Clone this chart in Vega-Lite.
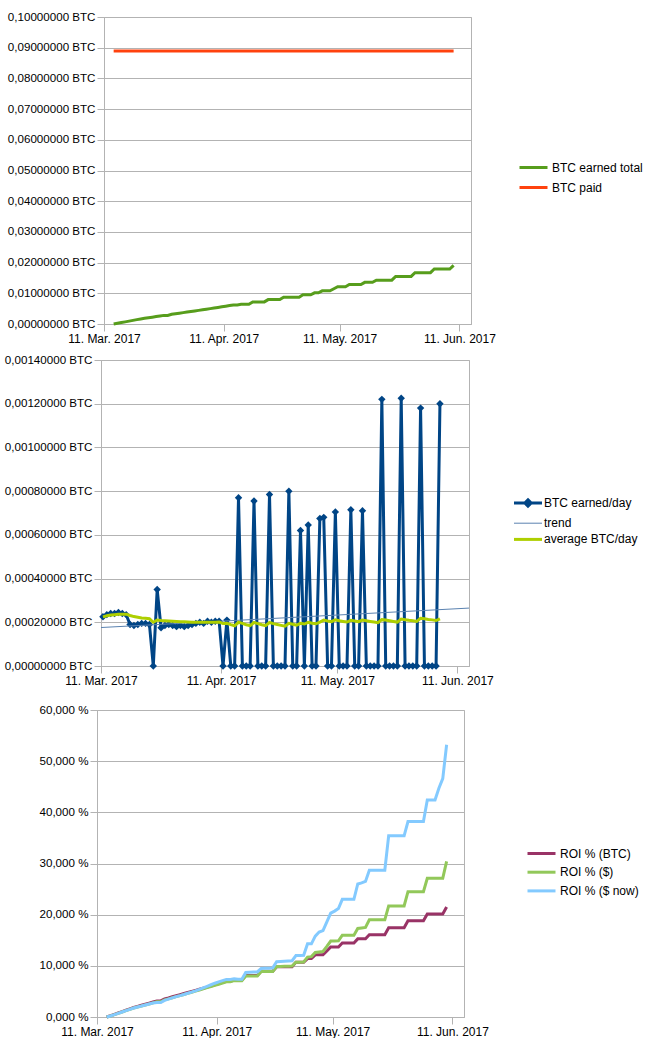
{
  "$schema": "https://vega.github.io/schema/vega-lite/v6.json",
  "padding": {"left": 0, "top": 10, "right": 0, "bottom": 0},
  "background": "white",
  "spacing": 8,
  "config": {
    "font": "Liberation Sans",
    "view": {"stroke": "#b3b3b3", "strokeWidth": 1},
    "axis": {"labelFont": "Liberation Sans", "labelFontSize": 12, "labelColor": "#000000", "domainColor": "#b3b3b3", "tickColor": "#b3b3b3", "gridColor": "#b3b3b3", "tickSize": 7, "labelPadding": 2, "labelFlush": false, "labelOverlap": false, "labelBound": false},
    "axisY": {"labelFontSize": 11.6},
    "legend": {"labelFont": "Liberation Sans", "labelFontSize": 12, "labelColor": "#000000", "labelLimit": 300}
  },
  "resolve": {"scale": {"x": "independent", "y": "independent", "color": "independent"}, "legend": {"color": "independent"}},
  "datasets": {
    "daily": [
      {"date": "2017-03-11T12:00:00Z", "btc": 0.000225, "avg": 0.000225},
      {"date": "2017-03-12T12:00:00Z", "btc": 0.000235, "avg": 0.00023},
      {"date": "2017-03-13T12:00:00Z", "btc": 0.00024, "avg": 0.000233},
      {"date": "2017-03-14T12:00:00Z", "btc": 0.00024, "avg": 0.000235},
      {"date": "2017-03-15T12:00:00Z", "btc": 0.000245, "avg": 0.000237},
      {"date": "2017-03-16T12:00:00Z", "btc": 0.00024, "avg": 0.000237},
      {"date": "2017-03-17T12:00:00Z", "btc": 0.000235, "avg": 0.000237},
      {"date": "2017-03-18T12:00:00Z", "btc": 0.00019, "avg": 0.000231},
      {"date": "2017-03-19T12:00:00Z", "btc": 0.000185, "avg": 0.000226},
      {"date": "2017-03-20T12:00:00Z", "btc": 0.00019, "avg": 0.000223},
      {"date": "2017-03-21T12:00:00Z", "btc": 0.000195, "avg": 0.00022},
      {"date": "2017-03-22T12:00:00Z", "btc": 0.000195, "avg": 0.000218},
      {"date": "2017-03-23T12:00:00Z", "btc": 0.00019, "avg": 0.000216},
      {"date": "2017-03-24T12:00:00Z", "btc": 0, "avg": 0.0002},
      {"date": "2017-03-25T12:00:00Z", "btc": 0.00035, "avg": 0.00021},
      {"date": "2017-03-26T12:00:00Z", "btc": 0.000175, "avg": 0.000208},
      {"date": "2017-03-27T12:00:00Z", "btc": 0.000185, "avg": 0.000207},
      {"date": "2017-03-28T12:00:00Z", "btc": 0.00019, "avg": 0.000206},
      {"date": "2017-03-29T12:00:00Z", "btc": 0.000185, "avg": 0.000205},
      {"date": "2017-03-30T12:00:00Z", "btc": 0.00018, "avg": 0.000204},
      {"date": "2017-03-31T12:00:00Z", "btc": 0.000185, "avg": 0.000203},
      {"date": "2017-04-01T12:00:00Z", "btc": 0.00018, "avg": 0.000202},
      {"date": "2017-04-02T12:00:00Z", "btc": 0.000185, "avg": 0.000201},
      {"date": "2017-04-03T12:00:00Z", "btc": 0.00019, "avg": 0.0002},
      {"date": "2017-04-04T12:00:00Z", "btc": 0.000195, "avg": 0.0002},
      {"date": "2017-04-05T12:00:00Z", "btc": 0.0002, "avg": 0.0002},
      {"date": "2017-04-06T12:00:00Z", "btc": 0.000195, "avg": 0.0002},
      {"date": "2017-04-07T12:00:00Z", "btc": 0.000205, "avg": 0.0002},
      {"date": "2017-04-08T12:00:00Z", "btc": 0.0002, "avg": 0.0002},
      {"date": "2017-04-09T12:00:00Z", "btc": 0.000205, "avg": 0.0002},
      {"date": "2017-04-10T12:00:00Z", "btc": 0.000205, "avg": 0.000201},
      {"date": "2017-04-11T12:00:00Z", "btc": 0, "avg": 0.000194},
      {"date": "2017-04-12T12:00:00Z", "btc": 0.00021, "avg": 0.000195},
      {"date": "2017-04-13T12:00:00Z", "btc": 0, "avg": 0.000189},
      {"date": "2017-04-14T12:00:00Z", "btc": 0, "avg": 0.000184},
      {"date": "2017-04-15T12:00:00Z", "btc": 0.00077, "avg": 0.0002},
      {"date": "2017-04-16T12:00:00Z", "btc": 0, "avg": 0.000195},
      {"date": "2017-04-17T12:00:00Z", "btc": 0, "avg": 0.000189},
      {"date": "2017-04-18T12:00:00Z", "btc": 0, "avg": 0.000185},
      {"date": "2017-04-19T12:00:00Z", "btc": 0.000755, "avg": 0.000199},
      {"date": "2017-04-20T12:00:00Z", "btc": 0, "avg": 0.000194},
      {"date": "2017-04-21T12:00:00Z", "btc": 0, "avg": 0.000189},
      {"date": "2017-04-22T12:00:00Z", "btc": 0, "avg": 0.000185},
      {"date": "2017-04-23T12:00:00Z", "btc": 0.000785, "avg": 0.000199},
      {"date": "2017-04-24T12:00:00Z", "btc": 0, "avg": 0.000194},
      {"date": "2017-04-25T12:00:00Z", "btc": 0, "avg": 0.00019},
      {"date": "2017-04-26T12:00:00Z", "btc": 0, "avg": 0.000186},
      {"date": "2017-04-27T12:00:00Z", "btc": 0, "avg": 0.000182},
      {"date": "2017-04-28T12:00:00Z", "btc": 0.0008, "avg": 0.000195},
      {"date": "2017-04-29T12:00:00Z", "btc": 0, "avg": 0.000191},
      {"date": "2017-04-30T12:00:00Z", "btc": 0, "avg": 0.000187},
      {"date": "2017-05-01T12:00:00Z", "btc": 0.00062, "avg": 0.000195},
      {"date": "2017-05-02T12:00:00Z", "btc": 0, "avg": 0.000192},
      {"date": "2017-05-03T12:00:00Z", "btc": 0.000645, "avg": 0.0002},
      {"date": "2017-05-04T12:00:00Z", "btc": 0, "avg": 0.000196},
      {"date": "2017-05-05T12:00:00Z", "btc": 0, "avg": 0.000193},
      {"date": "2017-05-06T12:00:00Z", "btc": 0.000675, "avg": 0.000201},
      {"date": "2017-05-07T12:00:00Z", "btc": 0.00068, "avg": 0.00021},
      {"date": "2017-05-08T12:00:00Z", "btc": 0, "avg": 0.000206},
      {"date": "2017-05-09T12:00:00Z", "btc": 0, "avg": 0.000203},
      {"date": "2017-05-10T12:00:00Z", "btc": 0.000705, "avg": 0.000211},
      {"date": "2017-05-11T12:00:00Z", "btc": 0, "avg": 0.000207},
      {"date": "2017-05-12T12:00:00Z", "btc": 0, "avg": 0.000204},
      {"date": "2017-05-13T12:00:00Z", "btc": 0, "avg": 0.000201},
      {"date": "2017-05-14T12:00:00Z", "btc": 0.000715, "avg": 0.000209},
      {"date": "2017-05-15T12:00:00Z", "btc": 0, "avg": 0.000206},
      {"date": "2017-05-16T12:00:00Z", "btc": 0, "avg": 0.000203},
      {"date": "2017-05-17T12:00:00Z", "btc": 0.00071, "avg": 0.00021},
      {"date": "2017-05-18T12:00:00Z", "btc": 0, "avg": 0.000207},
      {"date": "2017-05-19T12:00:00Z", "btc": 0, "avg": 0.000204},
      {"date": "2017-05-20T12:00:00Z", "btc": 0, "avg": 0.000201},
      {"date": "2017-05-21T12:00:00Z", "btc": 0, "avg": 0.000198},
      {"date": "2017-05-22T12:00:00Z", "btc": 0.00122, "avg": 0.000212},
      {"date": "2017-05-23T12:00:00Z", "btc": 0, "avg": 0.00021},
      {"date": "2017-05-24T12:00:00Z", "btc": 0, "avg": 0.000207},
      {"date": "2017-05-25T12:00:00Z", "btc": 0, "avg": 0.000204},
      {"date": "2017-05-26T12:00:00Z", "btc": 0, "avg": 0.000201},
      {"date": "2017-05-27T12:00:00Z", "btc": 0.001225, "avg": 0.000215},
      {"date": "2017-05-28T12:00:00Z", "btc": 0, "avg": 0.000212},
      {"date": "2017-05-29T12:00:00Z", "btc": 0, "avg": 0.000209},
      {"date": "2017-05-30T12:00:00Z", "btc": 0, "avg": 0.000207},
      {"date": "2017-05-31T12:00:00Z", "btc": 0, "avg": 0.000204},
      {"date": "2017-06-01T12:00:00Z", "btc": 0.00118, "avg": 0.000218},
      {"date": "2017-06-02T12:00:00Z", "btc": 0, "avg": 0.000216},
      {"date": "2017-06-03T12:00:00Z", "btc": 0, "avg": 0.000213},
      {"date": "2017-06-04T12:00:00Z", "btc": 0, "avg": 0.000211},
      {"date": "2017-06-05T12:00:00Z", "btc": 0, "avg": 0.000208},
      {"date": "2017-06-06T12:00:00Z", "btc": 0.0012, "avg": 0.000216}
    ],
    "trend": [
      {"date": "2017-03-11T00:00:00Z", "value": 0.000176},
      {"date": "2017-06-14T00:00:00Z", "value": 0.000265}
    ],
    "totals": [
      {"date": "2017-03-13T12:00:00Z", "total": 0, "paid": 0.0889, "roi_btc": 0, "roi_usd": 0, "roi_now": 0},
      {"date": "2017-03-14T12:00:00Z", "total": 0.000225, "paid": 0.0889, "roi_btc": 0.25, "roi_usd": 0.2, "roi_now": 0.2},
      {"date": "2017-03-15T12:00:00Z", "total": 0.00046, "paid": 0.0889, "roi_btc": 0.52, "roi_usd": 0.45, "roi_now": 0.45},
      {"date": "2017-03-16T12:00:00Z", "total": 0.0007, "paid": 0.0889, "roi_btc": 0.79, "roi_usd": 0.72, "roi_now": 0.72},
      {"date": "2017-03-17T12:00:00Z", "total": 0.00094, "paid": 0.0889, "roi_btc": 1.06, "roi_usd": 0.98, "roi_now": 0.98},
      {"date": "2017-03-18T12:00:00Z", "total": 0.001185, "paid": 0.0889, "roi_btc": 1.33, "roi_usd": 1.24, "roi_now": 1.24},
      {"date": "2017-03-19T12:00:00Z", "total": 0.001425, "paid": 0.0889, "roi_btc": 1.6, "roi_usd": 1.5, "roi_now": 1.5},
      {"date": "2017-03-20T12:00:00Z", "total": 0.00166, "paid": 0.0889, "roi_btc": 1.87, "roi_usd": 1.76, "roi_now": 1.76},
      {"date": "2017-03-21T12:00:00Z", "total": 0.00185, "paid": 0.0889, "roi_btc": 2.08, "roi_usd": 1.96, "roi_now": 1.96},
      {"date": "2017-03-22T12:00:00Z", "total": 0.002035, "paid": 0.0889, "roi_btc": 2.29, "roi_usd": 2.14, "roi_now": 2.14},
      {"date": "2017-03-23T12:00:00Z", "total": 0.002225, "paid": 0.0889, "roi_btc": 2.5, "roi_usd": 2.34, "roi_now": 2.34},
      {"date": "2017-03-24T12:00:00Z", "total": 0.00242, "paid": 0.0889, "roi_btc": 2.72, "roi_usd": 2.55, "roi_now": 2.55},
      {"date": "2017-03-25T12:00:00Z", "total": 0.002615, "paid": 0.0889, "roi_btc": 2.94, "roi_usd": 2.76, "roi_now": 2.72},
      {"date": "2017-03-26T12:00:00Z", "total": 0.002805, "paid": 0.0889, "roi_btc": 3.15, "roi_usd": 2.97, "roi_now": 2.85},
      {"date": "2017-03-27T12:00:00Z", "total": 0.002805, "paid": 0.0889, "roi_btc": 3.15, "roi_usd": 2.97, "roi_now": 2.82},
      {"date": "2017-03-28T12:00:00Z", "total": 0.003155, "paid": 0.0889, "roi_btc": 3.55, "roi_usd": 3.36, "roi_now": 3.25},
      {"date": "2017-03-29T12:00:00Z", "total": 0.00333, "paid": 0.0889, "roi_btc": 3.74, "roi_usd": 3.55, "roi_now": 3.5},
      {"date": "2017-03-30T12:00:00Z", "total": 0.003515, "paid": 0.0889, "roi_btc": 3.95, "roi_usd": 3.76, "roi_now": 3.74},
      {"date": "2017-03-31T12:00:00Z", "total": 0.003705, "paid": 0.0889, "roi_btc": 4.17, "roi_usd": 3.98, "roi_now": 3.98},
      {"date": "2017-04-01T12:00:00Z", "total": 0.00389, "paid": 0.0889, "roi_btc": 4.37, "roi_usd": 4.18, "roi_now": 4.18},
      {"date": "2017-04-02T12:00:00Z", "total": 0.00407, "paid": 0.0889, "roi_btc": 4.58, "roi_usd": 4.4, "roi_now": 4.4},
      {"date": "2017-04-03T12:00:00Z", "total": 0.004255, "paid": 0.0889, "roi_btc": 4.79, "roi_usd": 4.62, "roi_now": 4.64},
      {"date": "2017-04-04T12:00:00Z", "total": 0.004435, "paid": 0.0889, "roi_btc": 4.99, "roi_usd": 4.83, "roi_now": 4.87},
      {"date": "2017-04-05T12:00:00Z", "total": 0.00462, "paid": 0.0889, "roi_btc": 5.2, "roi_usd": 5.05, "roi_now": 5.12},
      {"date": "2017-04-06T12:00:00Z", "total": 0.00481, "paid": 0.0889, "roi_btc": 5.41, "roi_usd": 5.28, "roi_now": 5.4},
      {"date": "2017-04-07T12:00:00Z", "total": 0.005005, "paid": 0.0889, "roi_btc": 5.63, "roi_usd": 5.5, "roi_now": 5.7},
      {"date": "2017-04-08T12:00:00Z", "total": 0.005205, "paid": 0.0889, "roi_btc": 5.85, "roi_usd": 5.73, "roi_now": 6.0},
      {"date": "2017-04-09T12:00:00Z", "total": 0.0054, "paid": 0.0889, "roi_btc": 6.07, "roi_usd": 5.95, "roi_now": 6.3},
      {"date": "2017-04-10T12:00:00Z", "total": 0.005605, "paid": 0.0889, "roi_btc": 6.3, "roi_usd": 6.18, "roi_now": 6.6},
      {"date": "2017-04-11T12:00:00Z", "total": 0.005805, "paid": 0.0889, "roi_btc": 6.53, "roi_usd": 6.4, "roi_now": 6.85},
      {"date": "2017-04-12T12:00:00Z", "total": 0.00601, "paid": 0.0889, "roi_btc": 6.76, "roi_usd": 6.63, "roi_now": 7.1},
      {"date": "2017-04-13T12:00:00Z", "total": 0.006215, "paid": 0.0889, "roi_btc": 6.99, "roi_usd": 6.87, "roi_now": 7.35},
      {"date": "2017-04-14T12:00:00Z", "total": 0.006215, "paid": 0.0889, "roi_btc": 6.99, "roi_usd": 6.87, "roi_now": 7.35},
      {"date": "2017-04-15T12:00:00Z", "total": 0.006425, "paid": 0.0889, "roi_btc": 7.23, "roi_usd": 7.1, "roi_now": 7.45},
      {"date": "2017-04-16T12:00:00Z", "total": 0.006425, "paid": 0.0889, "roi_btc": 7.23, "roi_usd": 7.1, "roi_now": 7.4},
      {"date": "2017-04-17T12:00:00Z", "total": 0.006425, "paid": 0.0889, "roi_btc": 7.23, "roi_usd": 7.1, "roi_now": 7.4},
      {"date": "2017-04-18T12:00:00Z", "total": 0.007195, "paid": 0.0889, "roi_btc": 8.09, "roi_usd": 8.0, "roi_now": 8.7},
      {"date": "2017-04-19T12:00:00Z", "total": 0.007195, "paid": 0.0889, "roi_btc": 8.09, "roi_usd": 8.0, "roi_now": 8.75},
      {"date": "2017-04-20T12:00:00Z", "total": 0.007195, "paid": 0.0889, "roi_btc": 8.09, "roi_usd": 8.0, "roi_now": 8.8},
      {"date": "2017-04-21T12:00:00Z", "total": 0.007195, "paid": 0.0889, "roi_btc": 8.09, "roi_usd": 8.0, "roi_now": 8.8},
      {"date": "2017-04-22T12:00:00Z", "total": 0.00795, "paid": 0.0889, "roi_btc": 8.94, "roi_usd": 8.9, "roi_now": 9.5},
      {"date": "2017-04-23T12:00:00Z", "total": 0.00795, "paid": 0.0889, "roi_btc": 8.94, "roi_usd": 8.9, "roi_now": 9.55},
      {"date": "2017-04-24T12:00:00Z", "total": 0.00795, "paid": 0.0889, "roi_btc": 8.94, "roi_usd": 8.9, "roi_now": 9.55},
      {"date": "2017-04-25T12:00:00Z", "total": 0.00795, "paid": 0.0889, "roi_btc": 8.94, "roi_usd": 8.9, "roi_now": 9.6},
      {"date": "2017-04-26T12:00:00Z", "total": 0.008735, "paid": 0.0889, "roi_btc": 9.82, "roi_usd": 9.85, "roi_now": 10.8},
      {"date": "2017-04-27T12:00:00Z", "total": 0.008735, "paid": 0.0889, "roi_btc": 9.82, "roi_usd": 9.85, "roi_now": 10.85},
      {"date": "2017-04-28T12:00:00Z", "total": 0.008735, "paid": 0.0889, "roi_btc": 9.82, "roi_usd": 9.9, "roi_now": 10.9},
      {"date": "2017-04-29T12:00:00Z", "total": 0.008735, "paid": 0.0889, "roi_btc": 9.82, "roi_usd": 9.9, "roi_now": 10.95},
      {"date": "2017-04-30T12:00:00Z", "total": 0.008735, "paid": 0.0889, "roi_btc": 9.82, "roi_usd": 9.95, "roi_now": 11.0},
      {"date": "2017-05-01T12:00:00Z", "total": 0.009535, "paid": 0.0889, "roi_btc": 10.72, "roi_usd": 10.7, "roi_now": 12.0},
      {"date": "2017-05-02T12:00:00Z", "total": 0.009535, "paid": 0.0889, "roi_btc": 10.72, "roi_usd": 10.7, "roi_now": 12.0},
      {"date": "2017-05-03T12:00:00Z", "total": 0.009535, "paid": 0.0889, "roi_btc": 10.72, "roi_usd": 10.75, "roi_now": 12.05},
      {"date": "2017-05-04T12:00:00Z", "total": 0.010155, "paid": 0.0889, "roi_btc": 11.42, "roi_usd": 11.7, "roi_now": 14.3},
      {"date": "2017-05-05T12:00:00Z", "total": 0.010155, "paid": 0.0889, "roi_btc": 11.42, "roi_usd": 11.8, "roi_now": 14.3},
      {"date": "2017-05-06T12:00:00Z", "total": 0.0108, "paid": 0.0889, "roi_btc": 12.15, "roi_usd": 12.6, "roi_now": 15.8},
      {"date": "2017-05-07T12:00:00Z", "total": 0.0108, "paid": 0.0889, "roi_btc": 12.15, "roi_usd": 12.7, "roi_now": 16.6},
      {"date": "2017-05-08T12:00:00Z", "total": 0.0108, "paid": 0.0889, "roi_btc": 12.15, "roi_usd": 12.8, "roi_now": 16.9},
      {"date": "2017-05-09T12:00:00Z", "total": 0.011475, "paid": 0.0889, "roi_btc": 12.9, "roi_usd": 13.8, "roi_now": 18.6},
      {"date": "2017-05-10T12:00:00Z", "total": 0.012155, "paid": 0.0889, "roi_btc": 13.67, "roi_usd": 14.85, "roi_now": 20.3},
      {"date": "2017-05-11T12:00:00Z", "total": 0.012155, "paid": 0.0889, "roi_btc": 13.67, "roi_usd": 14.85, "roi_now": 20.7},
      {"date": "2017-05-12T12:00:00Z", "total": 0.012155, "paid": 0.0889, "roi_btc": 13.67, "roi_usd": 14.9, "roi_now": 21.2},
      {"date": "2017-05-13T12:00:00Z", "total": 0.01286, "paid": 0.0889, "roi_btc": 14.46, "roi_usd": 16.0, "roi_now": 23.0},
      {"date": "2017-05-14T12:00:00Z", "total": 0.01286, "paid": 0.0889, "roi_btc": 14.46, "roi_usd": 16.0, "roi_now": 23.0},
      {"date": "2017-05-15T12:00:00Z", "total": 0.01286, "paid": 0.0889, "roi_btc": 14.46, "roi_usd": 16.0, "roi_now": 23.0},
      {"date": "2017-05-16T12:00:00Z", "total": 0.01286, "paid": 0.0889, "roi_btc": 14.46, "roi_usd": 16.0, "roi_now": 23.0},
      {"date": "2017-05-17T12:00:00Z", "total": 0.013575, "paid": 0.0889, "roi_btc": 15.27, "roi_usd": 17.3, "roi_now": 26.0},
      {"date": "2017-05-18T12:00:00Z", "total": 0.013575, "paid": 0.0889, "roi_btc": 15.27, "roi_usd": 17.4, "roi_now": 26.2},
      {"date": "2017-05-19T12:00:00Z", "total": 0.013575, "paid": 0.0889, "roi_btc": 15.27, "roi_usd": 17.5, "roi_now": 26.5},
      {"date": "2017-05-20T12:00:00Z", "total": 0.014285, "paid": 0.0889, "roi_btc": 16.06, "roi_usd": 19.0, "roi_now": 28.7},
      {"date": "2017-05-21T12:00:00Z", "total": 0.014285, "paid": 0.0889, "roi_btc": 16.06, "roi_usd": 19.0, "roi_now": 28.7},
      {"date": "2017-05-22T12:00:00Z", "total": 0.014285, "paid": 0.0889, "roi_btc": 16.06, "roi_usd": 19.0, "roi_now": 28.7},
      {"date": "2017-05-23T12:00:00Z", "total": 0.014285, "paid": 0.0889, "roi_btc": 16.06, "roi_usd": 19.0, "roi_now": 28.7},
      {"date": "2017-05-24T12:00:00Z", "total": 0.014285, "paid": 0.0889, "roi_btc": 16.06, "roi_usd": 19.0, "roi_now": 28.7},
      {"date": "2017-05-25T12:00:00Z", "total": 0.015505, "paid": 0.0889, "roi_btc": 17.44, "roi_usd": 21.7, "roi_now": 35.4},
      {"date": "2017-05-26T12:00:00Z", "total": 0.015505, "paid": 0.0889, "roi_btc": 17.44, "roi_usd": 21.7, "roi_now": 35.4},
      {"date": "2017-05-27T12:00:00Z", "total": 0.015505, "paid": 0.0889, "roi_btc": 17.44, "roi_usd": 21.7, "roi_now": 35.4},
      {"date": "2017-05-28T12:00:00Z", "total": 0.015505, "paid": 0.0889, "roi_btc": 17.44, "roi_usd": 21.7, "roi_now": 35.4},
      {"date": "2017-05-29T12:00:00Z", "total": 0.015505, "paid": 0.0889, "roi_btc": 17.44, "roi_usd": 21.7, "roi_now": 35.4},
      {"date": "2017-05-30T12:00:00Z", "total": 0.01673, "paid": 0.0889, "roi_btc": 18.81, "roi_usd": 24.5, "roi_now": 38.2},
      {"date": "2017-05-31T12:00:00Z", "total": 0.01673, "paid": 0.0889, "roi_btc": 18.81, "roi_usd": 24.5, "roi_now": 38.2},
      {"date": "2017-06-01T12:00:00Z", "total": 0.01673, "paid": 0.0889, "roi_btc": 18.81, "roi_usd": 24.5, "roi_now": 38.2},
      {"date": "2017-06-02T12:00:00Z", "total": 0.01673, "paid": 0.0889, "roi_btc": 18.81, "roi_usd": 24.5, "roi_now": 38.2},
      {"date": "2017-06-03T12:00:00Z", "total": 0.01673, "paid": 0.0889, "roi_btc": 18.81, "roi_usd": 24.5, "roi_now": 38.2},
      {"date": "2017-06-04T12:00:00Z", "total": 0.01791, "paid": 0.0889, "roi_btc": 20.14, "roi_usd": 27.1, "roi_now": 42.4},
      {"date": "2017-06-05T12:00:00Z", "total": 0.01791, "paid": 0.0889, "roi_btc": 20.14, "roi_usd": 27.1, "roi_now": 42.4},
      {"date": "2017-06-06T12:00:00Z", "total": 0.01791, "paid": 0.0889, "roi_btc": 20.14, "roi_usd": 27.1, "roi_now": 42.4},
      {"date": "2017-06-07T12:00:00Z", "total": 0.01791, "paid": 0.0889, "roi_btc": 20.14, "roi_usd": 27.1, "roi_now": 44.7},
      {"date": "2017-06-08T12:00:00Z", "total": 0.01791, "paid": 0.0889, "roi_btc": 20.14, "roi_usd": 27.1, "roi_now": 46.6},
      {"date": "2017-06-09T12:00:00Z", "total": 0.01911, "paid": 0.0889, "roi_btc": 21.49, "roi_usd": 30.4, "roi_now": 53.2}
    ],
    "blank": [{"k": 0}]
  },
  "vconcat": [
    {
      "spacing": 0,
      "resolve": {"scale": {"color": "independent"}, "legend": {"color": "independent"}},
      "hconcat": [
        {"width": 1, "height": 1, "data": {"name": "blank"}, "mark": {"type": "point", "size": 1, "strokeWidth": 0, "opacity": 0}, "view": {"stroke": null}},
        {
          "width": 367,
          "height": 307,
          "data": {"name": "totals"},
          "encoding": {
            "x": {"field": "date", "type": "temporal", "title": null,
              "scale": {"type": "utc", "domain": [{"year": 2017, "month": 3, "date": 11, "utc": true}, {"year": 2017, "month": 6, "date": 14, "utc": true}]},
              "axis": {"values": [{"year": 2017, "month": 3, "date": 11, "utc": true}, {"year": 2017, "month": 4, "date": 11, "utc": true}, {"year": 2017, "month": 5, "date": 11, "utc": true}, {"year": 2017, "month": 6, "date": 11, "utc": true}],
                "labelExpr": "utcFormat(datum.value, '%d. %b. %Y')", "grid": false}}
          },
          "layer": [
            {
              "mark": {"type": "line", "strokeWidth": 3},
              "encoding": {
                "y": {"field": "total", "type": "quantitative", "title": null,
                  "scale": {"domain": [0, 0.1], "nice": false},
                  "axis": {"values": [0, 0.01, 0.02, 0.03, 0.04, 0.05, 0.06, 0.07, 0.08, 0.09, 0.1], "tickCount": 20,
                    "labelExpr": "replace(format(datum.value, '.8f'), '.', ',') + ' BTC'", "grid": true, "minExtent": 102}},
                "color": {"datum": "BTC earned total",
                  "scale": {"domain": ["BTC earned total", "BTC paid"], "range": ["#579d1c", "#ff420e"]},
                  "legend": {"title": null, "orient": "none", "legendX": 421, "legendY": 142, "symbolType": "M-2,0H2", "symbolSize": 196, "symbolStrokeWidth": 3, "labelOffset": 10, "rowPadding": 5, "padding": 0}}
              }
            },
            {
              "mark": {"type": "line", "strokeWidth": 3},
              "encoding": {
                "y": {"field": "paid", "type": "quantitative", "title": null},
                "color": {"datum": "BTC paid"}
              }
            }
          ]
        }
      ]
    },
    {
      "spacing": 0,
      "resolve": {"scale": {"color": "independent"}, "legend": {"color": "independent"}},
      "hconcat": [
        {"width": 1, "height": 1, "data": {"name": "blank"}, "mark": {"type": "point", "size": 1, "strokeWidth": 0, "opacity": 0}, "view": {"stroke": null}},
        {
          "width": 368,
          "height": 306,
          "encoding": {
            "x": {"field": "date", "type": "temporal", "title": null,
              "scale": {"type": "utc", "domain": [{"year": 2017, "month": 3, "date": 11, "utc": true}, {"year": 2017, "month": 6, "date": 14, "utc": true}]},
              "axis": {"values": [{"year": 2017, "month": 3, "date": 11, "utc": true}, {"year": 2017, "month": 4, "date": 11, "utc": true}, {"year": 2017, "month": 5, "date": 11, "utc": true}, {"year": 2017, "month": 6, "date": 11, "utc": true}],
                "labelExpr": "utcFormat(datum.value, '%d. %b. %Y')", "grid": false, "minExtent": 28}}
          },
          "layer": [
            {
              "data": {"name": "daily"},
              "mark": {"type": "line", "strokeWidth": 3},
              "encoding": {
                "y": {"field": "btc", "type": "quantitative", "title": null,
                  "scale": {"domain": [0, 0.0014], "nice": false},
                  "axis": {"values": [0, 0.0002, 0.0004, 0.0006, 0.0008, 0.001, 0.0012, 0.0014], "tickCount": 20,
                    "labelExpr": "replace(format(datum.value, '.8f'), '.', ',') + ' BTC'", "grid": true, "minExtent": 99.2}},
                "color": {"datum": " BTC earned/day",
                  "scale": {"domain": [" BTC earned/day", "trend", " average BTC/day"], "range": ["#004586", "#5a82b0", "#aecf00"]},
                  "legend": {"title": null, "orient": "none", "legendX": 421, "legendY": 137, "symbolType": "M-2,0H2", "symbolSize": 196, "symbolStrokeWidth": 3, "labelOffset": 10, "rowPadding": 4.2, "padding": 0,
                    "encode": {"symbols": {"update": {
                      "shape": {"signal": "datum.value === ' BTC earned/day' ? 'M-2,0H2M0,-0.45L0.45,0L0,0.45L-0.45,0Z' : 'M-2,0H2'"},
                      "strokeWidth": {"signal": "datum.value === 'trend' ? 1 : 3"},
                      "fill": {"signal": "datum.value === ' BTC earned/day' ? '#004586' : 'transparent'"}
                    }}}}}
              }
            },
            {
              "data": {"name": "daily"},
              "mark": {"type": "point", "shape": "diamond", "filled": true, "size": 55, "color": "#004586", "opacity": 1},
              "encoding": {
                "y": {"field": "btc", "type": "quantitative", "title": null}
              }
            },
            {
              "data": {"name": "trend"},
              "mark": {"type": "line", "strokeWidth": 1},
              "encoding": {
                "y": {"field": "value", "type": "quantitative", "title": null},
                "color": {"datum": "trend"}
              }
            },
            {
              "data": {"name": "daily"},
              "mark": {"type": "line", "strokeWidth": 3},
              "encoding": {
                "y": {"field": "avg", "type": "quantitative", "title": null},
                "color": {"datum": " average BTC/day"}
              }
            }
          ]
        }
      ]
    },
    {
      "spacing": 0,
      "resolve": {"scale": {"color": "independent"}, "legend": {"color": "independent"}},
      "hconcat": [
        {"width": 1, "height": 1, "data": {"name": "blank"}, "mark": {"type": "point", "size": 1, "strokeWidth": 0, "opacity": 0}, "view": {"stroke": null}},
        {
          "width": 367,
          "height": 307,
          "data": {"name": "totals"},
          "encoding": {
            "x": {"field": "date", "type": "temporal", "title": null,
              "scale": {"type": "utc", "domain": [{"year": 2017, "month": 3, "date": 11, "utc": true}, {"year": 2017, "month": 6, "date": 14, "utc": true}]},
              "axis": {"values": [{"year": 2017, "month": 3, "date": 11, "utc": true}, {"year": 2017, "month": 4, "date": 11, "utc": true}, {"year": 2017, "month": 5, "date": 11, "utc": true}, {"year": 2017, "month": 6, "date": 11, "utc": true}],
                "labelExpr": "utcFormat(datum.value, '%d. %b. %Y')", "grid": false}}
          },
          "layer": [
            {
              "mark": {"type": "line", "strokeWidth": 3},
              "encoding": {
                "y": {"field": "roi_btc", "type": "quantitative", "title": null,
                  "scale": {"domain": [0, 60], "nice": false},
                  "axis": {"values": [0, 10, 20, 30, 40, 50, 60], "tickCount": 20,
                    "labelExpr": "replace(format(datum.value, '.3f'), '.', ',') + ' %'", "grid": true, "minExtent": 94.6}},
                "color": {"datum": " ROI % (BTC)",
                  "scale": {"domain": [" ROI % (BTC)", "ROI % ($)", "ROI % ($ now)"], "range": ["#993366", "#92c85a", "#83caff"]},
                  "legend": {"title": null, "orient": "none", "legendX": 436, "legendY": 135, "symbolType": "M-2,0H2", "symbolSize": 196, "symbolStrokeWidth": 3, "labelOffset": 10, "rowPadding": 3.7, "padding": 0}}
              }
            },
            {
              "mark": {"type": "line", "strokeWidth": 3},
              "encoding": {
                "y": {"field": "roi_usd", "type": "quantitative", "title": null},
                "color": {"datum": "ROI % ($)"}
              }
            },
            {
              "mark": {"type": "line", "strokeWidth": 3},
              "encoding": {
                "y": {"field": "roi_now", "type": "quantitative", "title": null},
                "color": {"datum": "ROI % ($ now)"}
              }
            }
          ]
        }
      ]
    }
  ]
}
